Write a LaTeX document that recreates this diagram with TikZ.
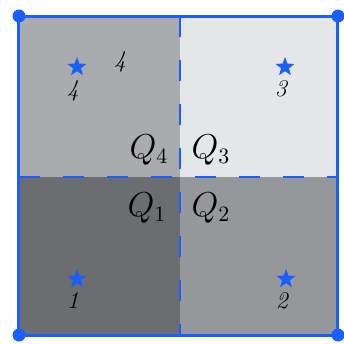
\documentclass[tikz,border=0pt]{standalone}
\usepackage{tikz}
\usetikzlibrary{shapes.geometric, positioning}

\definecolor{frameblue}{RGB}{25,95,255}
\definecolor{shadeA}{RGB}{108,109,113}
\definecolor{shadeB}{RGB}{150,151,155}
\definecolor{shadeC}{RGB}{229,230,232}
\definecolor{shadeD}{RGB}{170,171,175}

\begin{document}
\begin{tikzpicture}[x=0.5pt, y=-0.5pt,
    corner/.style={circle, fill=frameblue, inner sep=0pt, minimum size=6.5pt},
    site/.style={star, star points=5, star point ratio=2.4, fill=frameblue,
        inner sep=0pt, minimum size=10pt},
    num/.style={inner sep=1pt, font=\large\itshape},
    quad/.style={inner sep=0pt, font=\fontsize{16}{18}\selectfont},
    divider/.style={frameblue, line width=1.3pt, dash pattern=on 10.5pt off 11.5pt}
]
\useasboundingbox (0,0) rectangle (344,344);

    % Quadrant shading
    \fill[shadeD] (19,16) rectangle (180,177);
    \fill[shadeC] (180,16) rectangle (338,177);
    \fill[shadeA] (19,177) rectangle (180,335);
    \fill[shadeB] (180,177) rectangle (338,335);

    % Dividers
    \coordinate (top) at (180,16);
    \coordinate (bot) at (180,335);
    \coordinate (lft) at (19,177);
    \coordinate (rgt) at (338,177);
    \draw[divider] (top) -- (bot);
    \draw[divider] (lft) -- (rgt);

    % Frame with corner dots
    \node[corner] (c1) at (19,335) {};
    \node[corner] (c2) at (338,335) {};
    \node[corner] (c3) at (338,16) {};
    \node[corner] (c4) at (19,16) {};
    \draw[frameblue, line width=1.5pt] (c1.center) -- (c2.center) -- (c3.center) -- (c4.center) -- cycle;

    % Sites and their numbers
    \node[site] (s1) at (77,279) {};
    \node[site] (s2) at (286,279) {};
    \node[site] (s3) at (285,67) {};
    \node[site] (s4) at (77,67) {};
    \node[num, below=3pt of s1, xshift=-2pt] (n1) {1};
    \node[num, below=3pt of s2, xshift=-2pt] (n2) {2};
    \node[num, below=3pt of s3, xshift=-2pt] (n3) {3};
    \node[num, below=3pt of s4, xshift=-2pt] (n4) {4};
    \node[num] (extra) at (120,62) {4};

    % Quadrant labels
    \node[quad] (q1) at (147,208) {$Q_1$};
    \node[quad] (q2) at (211,208) {$Q_2$};
    \node[quad] (q3) at (211,150) {$Q_3$};
    \node[quad] (q4) at (149,150) {$Q_4$};
\end{tikzpicture}
\end{document}
